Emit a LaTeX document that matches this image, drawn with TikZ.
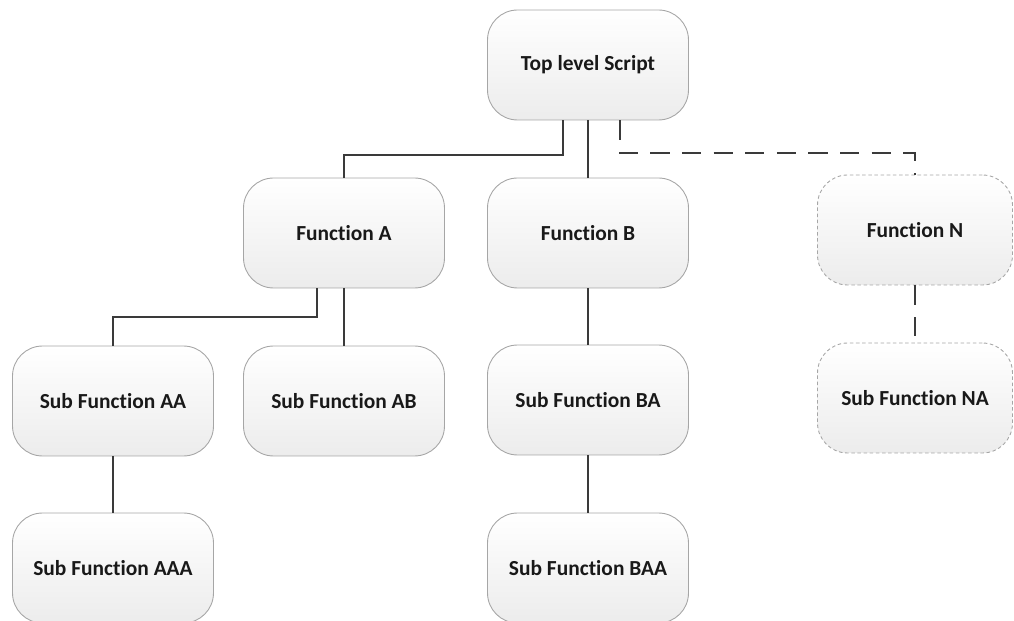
\documentclass[tikz,border=0pt]{standalone}
\usepackage{fontspec}
\setmainfont{Carlito}[Ligatures=NoCommon]
\usetikzlibrary{calc}
\definecolor{edgegray}{HTML}{A6A6A6}
\definecolor{linkgray}{HTML}{3A3A3A}
\definecolor{fillbottom}{HTML}{ECECEC}
\tikzset{
  box/.style={rectangle, rounded corners=0.6cm, draw=edgegray, line width=0.5pt,
    top color=white, bottom color=fillbottom,
    minimum width=4.02cm, minimum height=2.2cm,
    font=\fontsize{12.2}{14}\selectfont\bfseries, text=black!90},
  optbox/.style={box, dashed, dash pattern=on 2pt off 1.5pt, minimum width=3.9cm},
  link/.style={draw=linkgray, line width=1.1pt},
  optlink/.style={link, dash pattern=on 11pt off 7pt}
}
\begin{document}
\begin{tikzpicture}[x=0.02cm, y=-0.02cm]
  \useasboundingbox (0,0) rectangle (1014,621);

  % top level
  \node[box] (top) at (588,65) {Top level Script};

  % functions
  \node[box] (fa) at (344,233) {Function A};
  \node[box] (fb) at (588,233) {Function B};
  \node[optbox] (fn) at (915,230) {Function N};

  % sub functions
  \node[box] (saa) at (113,401) {Sub Function AA};
  \node[box] (sab) at (344,401) {Sub Function AB};
  \node[box] (sba) at (588,400) {Sub Function BA};
  \node[optbox] (sna) at (915,398) {Sub Function NA};

  \node[box] (saaa) at (113,568) {Sub Function AAA};
  \node[box] (sbaa) at (588,568) {Sub Function BAA};

  % connectors
  \draw[link] ([xshift=-0.5cm]top.south) -- ++(0,-0.7cm) -| (fa.north);
  \draw[link] (top.south) -- (fb.north);
  \draw[optlink] ([xshift=0.64cm]top.south) -- ++(0,-0.66cm) -| (fn.north);

  \draw[link] ([xshift=-0.54cm]fa.south) -- ++(0,-0.58cm) -| (saa.north);
  \draw[link] (fa.south) -- (sab.north);
  \draw[link] (fb.south) -- (sba.north);
  \draw[optlink] (fn.south) -- (sna.north);

  \draw[link] (saa.south) -- (saaa.north);
  \draw[link] (sba.south) -- (sbaa.north);
\end{tikzpicture}
\end{document}
